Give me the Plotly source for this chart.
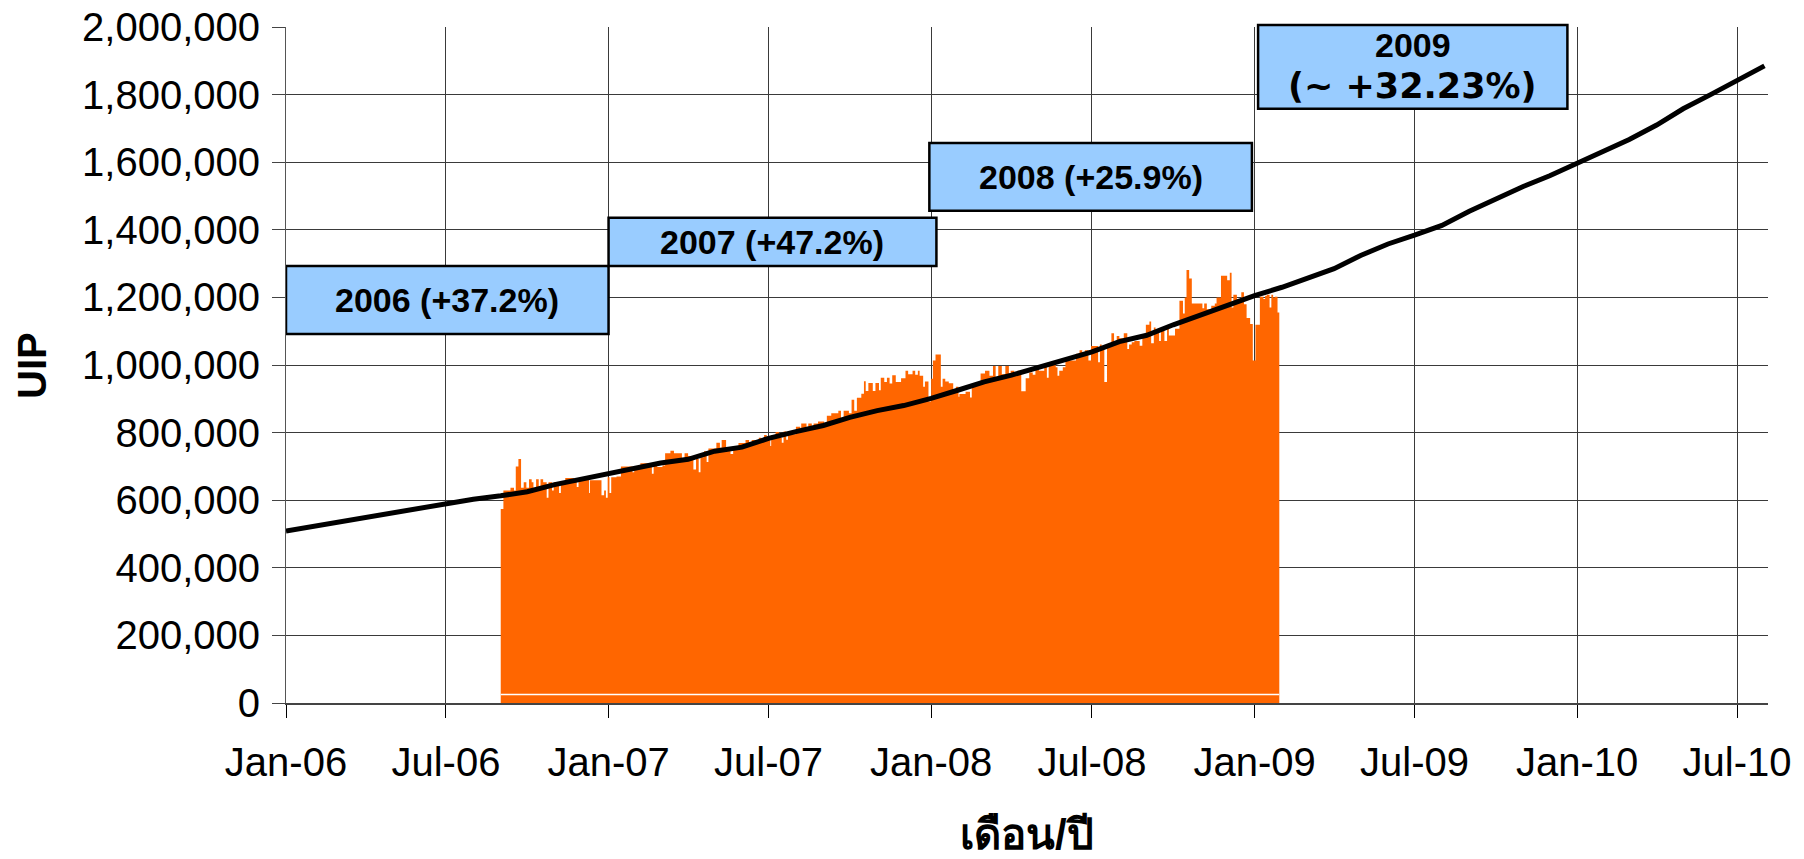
import pandas as pd
import plotly.graph_objects as go

# daily UIP: each value holds from its date to the next date
bar_dates = [
    '2006-09-01', '2006-09-04', '2006-09-12', '2006-09-16', '2006-09-18', '2006-09-21',
    '2006-09-24', '2006-09-27', '2006-09-30', '2006-10-03', '2006-10-06', '2006-10-08',
    '2006-10-11', '2006-10-14', '2006-10-16', '2006-10-19', '2006-10-23', '2006-10-25',
    '2006-10-29', '2006-10-31', '2006-11-06', '2006-11-08', '2006-11-13', '2006-11-23',
    '2006-11-26', '2006-11-28', '2006-12-10', '2006-12-11', '2006-12-24', '2006-12-27',
    '2006-12-29', '2006-12-31', '2007-01-02', '2007-01-04', '2007-01-10', '2007-01-15',
    '2007-01-28', '2007-01-30', '2007-02-06', '2007-02-19', '2007-02-21', '2007-02-25',
    '2007-03-03', '2007-03-06', '2007-03-12', '2007-03-16', '2007-03-25', '2007-03-28',
    '2007-04-01', '2007-04-07', '2007-04-10', '2007-04-13', '2007-04-15', '2007-04-19',
    '2007-04-22', '2007-04-24', '2007-05-03', '2007-05-07', '2007-05-09', '2007-05-14',
    '2007-05-19', '2007-05-22', '2007-05-28', '2007-06-05', '2007-06-09', '2007-06-12',
    '2007-06-17', '2007-06-20', '2007-06-23', '2007-06-26', '2007-06-29', '2007-07-03',
    '2007-07-04', '2007-07-09', '2007-07-13', '2007-07-16', '2007-07-18', '2007-07-21',
    '2007-07-23', '2007-08-01', '2007-08-06', '2007-08-07', '2007-08-13', '2007-08-15',
    '2007-08-19', '2007-08-21', '2007-08-26', '2007-09-02', '2007-09-05', '2007-09-10',
    '2007-09-18', '2007-09-21', '2007-09-24', '2007-09-30', '2007-10-03', '2007-10-06',
    '2007-10-09', '2007-10-14', '2007-10-17', '2007-10-19', '2007-10-22', '2007-10-27',
    '2007-10-30', '2007-11-03', '2007-11-05', '2007-11-09', '2007-11-12', '2007-11-15',
    '2007-11-18', '2007-11-22', '2007-11-28', '2007-12-03', '2007-12-06', '2007-12-11',
    '2007-12-14', '2007-12-17', '2007-12-19', '2007-12-23', '2007-12-25', '2007-12-29',
    '2008-01-01', '2008-01-03', '2008-01-06', '2008-01-12', '2008-01-14', '2008-01-17',
    '2008-01-21', '2008-01-26', '2008-01-29', '2008-02-01', '2008-02-02', '2008-02-09',
    '2008-02-14', '2008-02-16', '2008-02-26', '2008-03-02', '2008-03-07', '2008-03-11',
    '2008-03-14', '2008-03-17', '2008-03-21', '2008-03-25', '2008-03-29', '2008-03-31',
    '2008-04-04', '2008-04-08', '2008-04-12', '2008-04-17', '2008-04-21', '2008-04-25',
    '2008-04-28', '2008-05-02', '2008-05-08', '2008-05-11', '2008-05-13', '2008-05-21',
    '2008-05-23', '2008-05-25', '2008-05-29', '2008-06-01', '2008-06-13', '2008-06-17',
    '2008-06-20', '2008-06-23', '2008-06-27', '2008-06-30', '2008-07-08', '2008-07-10',
    '2008-07-12', '2008-07-15', '2008-07-18', '2008-07-23', '2008-07-26', '2008-07-29',
    '2008-08-01', '2008-08-06', '2008-08-10', '2008-08-12', '2008-08-15', '2008-08-18',
    '2008-08-24', '2008-08-27', '2008-08-31', '2008-09-04', '2008-09-06', '2008-09-09',
    '2008-09-11', '2008-09-15', '2008-09-17', '2008-09-21', '2008-09-24', '2008-09-26',
    '2008-10-03', '2008-10-08', '2008-10-12', '2008-10-14', '2008-10-16', '2008-10-19',
    '2008-10-22', '2008-11-03', '2008-11-05', '2008-11-08', '2008-11-13', '2008-11-17',
    '2008-11-19', '2008-11-24', '2008-12-01', '2008-12-04', '2008-12-06', '2008-12-08',
    '2008-12-12', '2008-12-17', '2008-12-20', '2008-12-23', '2008-12-27', '2008-12-30',
    '2009-01-02', '2009-01-07', '2009-01-11', '2009-01-13', '2009-01-15', '2009-01-18',
    '2009-01-20', '2009-01-22', '2009-01-24', '2009-01-27', '2009-01-29',
]
bar_values = [
    574000, 629000, 637000, 629000, 700000, 722000,
    637000, 653000, 637000, 662000, 653000, 637000,
    662000, 637000, 662000, 653000, 607000, 653000,
    629000, 653000, 621000, 653000, 666000, 659000,
    639000, 666000, 621000, 659000, 615000, 629000,
    607000, 668000, 621000, 668000, 670000, 700000,
    683000, 700000, 709000, 678000, 709000, 698000,
    703000, 739000, 746000, 739000, 722000, 739000,
    731000, 691000, 722000, 683000, 727000, 745000,
    713000, 753000, 770000, 755000, 778000, 755000,
    737000, 753000, 769000, 778000, 770000, 778000,
    770000, 785000, 778000, 793000, 780000, 760000,
    792000, 802000, 785000, 770000, 803000, 779000,
    795000, 817000, 807000, 827000, 807000, 827000,
    813000, 827000, 833000, 820000, 850000, 857000,
    865000, 840000, 865000, 857000, 897000, 865000,
    903000, 915000, 952000, 923000, 947000, 923000,
    947000, 925000, 962000, 950000, 962000, 945000,
    970000, 950000, 961000, 983000, 973000, 983000,
    971000, 983000, 968000, 936000, 951000, 892000,
    959000, 1013000, 1031000, 936000, 959000, 951000,
    946000, 929000, 936000, 906000, 914000, 921000,
    904000, 944000, 975000, 983000, 968000, 997000,
    959000, 997000, 973000, 997000, 971000, 983000,
    973000, 983000, 922000, 961000, 978000, 971000,
    993000, 983000, 1003000, 962000, 1000000, 993000,
    968000, 983000, 993000, 1013000, 1033000, 1044000,
    1033000, 1044000, 1013000, 1056000, 1008000, 1061000,
    1054000, 950000, 1055000, 1094000, 1070000, 1086000,
    1079000, 1094000, 1047000, 1061000, 1067000, 1071000,
    1057000, 1084000, 1119000, 1129000, 1064000, 1111000,
    1101000, 1071000, 1101000, 1071000, 1107000, 1087000,
    1107000, 1190000, 1152000, 1200000, 1281000, 1256000,
    1182000, 1168000, 1182000, 1165000, 1175000, 1182000,
    1200000, 1264000, 1251000, 1273000, 1170000, 1208000,
    1195000, 1215000, 1180000, 1139000, 1121000, 1013000,
    1119000, 1202000, 1195000, 1205000, 1208000, 1170000,
    1208000, 1200000, 1202000, 1155000, 1155000,
]

# trend line, read at the start of each month
trend_dates = [
    '2006-01-01', '2006-02-01', '2006-03-01', '2006-04-01', '2006-05-01', '2006-06-01',
    '2006-07-01', '2006-08-01', '2006-09-01', '2006-10-01', '2006-11-01', '2006-12-01',
    '2007-01-01', '2007-02-01', '2007-03-01', '2007-04-01', '2007-05-01', '2007-06-01',
    '2007-07-01', '2007-08-01', '2007-09-01', '2007-10-01', '2007-11-01', '2007-12-01',
    '2008-01-01', '2008-02-01', '2008-03-01', '2008-04-01', '2008-05-01', '2008-06-01',
    '2008-07-01', '2008-08-01', '2008-09-01', '2008-10-01', '2008-11-01', '2008-12-01',
    '2009-01-01', '2009-02-01', '2009-03-01', '2009-04-01', '2009-05-01', '2009-06-01',
    '2009-07-01', '2009-08-01', '2009-09-01', '2009-10-01', '2009-11-01', '2009-12-01',
    '2010-01-01', '2010-02-01', '2010-03-01', '2010-04-01', '2010-05-01', '2010-06-01',
    '2010-07-01', '2010-08-01',
]
trend_values = [
    509000, 523000, 535000, 547000, 561000, 575000,
    589000, 603000, 613000, 625000, 646000, 662000,
    676000, 693000, 710000, 721000, 745000, 757000,
    783000, 803000, 821000, 845000, 865000, 880000,
    901000, 926000, 950000, 970000, 994000, 1015000,
    1039000, 1069000, 1088000, 1119000, 1148000, 1173000,
    1205000, 1230000, 1257000, 1285000, 1324000, 1358000,
    1384000, 1413000, 1455000, 1492000, 1528000, 1560000,
    1597000, 1635000, 1667000, 1710000, 1758000, 1800000,
    1842000, 1885000,
]

# yearly growth labels
year_labels = ['2006 (+37.2%)', '2007 (+47.2%)', '2008 (+25.9%)']
year_label_2009 = ['2009', '(~ +32.23%)']

# label boxes: (start, end, bottom, top) in axis units
label_boxes = [
    ('2006-01-01', '2007-01-01', 1092000, 1293000),
    ('2007-01-01', '2008-01-07', 1293000, 1436000),
    ('2007-12-30', '2008-12-29', 1456000, 1657000),
    ('2009-01-05', '2009-12-21', 1758000, 2006000),
]

Y_MAX = 2000000
ORANGE = '#FF6600'
BOX_BLUE = '#99CCFF'
GRID = '#3a3a3a'
FONT = 'Liberation Sans, Arial, sans-serif'

fig = go.Figure()

fig.add_trace(go.Scatter(x=bar_dates, y=bar_values, mode='lines',
                         line=dict(width=0, shape='hv'),
                         fill='tozeroy', fillcolor=ORANGE,
                         showlegend=False, hoverinfo='skip'))

fig.add_trace(go.Scatter(x=trend_dates, y=trend_values, mode='lines',
                         line=dict(color='black', width=5),
                         showlegend=False))

# the original has no gridline along the top edge
fig.add_shape(type='line', xref='paper', yref='paper', x0=0, x1=1, y0=1, y1=1,
              line=dict(color='white', width=3), layer='between')

# thin white seam near the base of the bars
fig.add_shape(type='line', xref='x', yref='y',
              x0=bar_dates[0], x1=bar_dates[-1], y0=25000, y1=25000,
              line=dict(color='white', width=1.5), layer='above')

# boxes use paper units vertically so the 2009 one can poke above the plot top
for x0, x1, y0, y1 in label_boxes:
    fig.add_shape(type='rect', xref='x', yref='paper', x0=x0, x1=x1,
                  y0=y0 / Y_MAX, y1=y1 / Y_MAX,
                  fillcolor=BOX_BLUE, line=dict(color='black', width=2.5), layer='above')

for (x0, x1, y0, y1), text in zip(label_boxes[:3], year_labels):
    mid = pd.Timestamp(x0) + (pd.Timestamp(x1) - pd.Timestamp(x0)) / 2
    fig.add_annotation(x=mid, y=(y0 + y1) / 2, xref='x', yref='y', text='<b>%s</b>' % text,
                       showarrow=False, font=dict(family=FONT, size=34, color='black'))

x0, x1, y0, y1 = label_boxes[3]
mid = pd.Timestamp(x0) + (pd.Timestamp(x1) - pd.Timestamp(x0)) / 2
fig.add_annotation(x=mid, y=(y0 + y1) / 2, xref='x', yref='y', yshift=22,
                   text='<b>%s</b>' % year_label_2009[0], showarrow=False,
                   font=dict(family=FONT, size=34, color='black'))
fig.add_annotation(x=mid, y=(y0 + y1) / 2, xref='x', yref='y', yshift=-19,
                   text='<b>%s</b>' % year_label_2009[1], showarrow=False,
                   font=dict(family='DejaVu Sans, Verdana, sans-serif', size=35, color='black'))

# axis titles
fig.add_annotation(x=-0.1714, y=0.5, xref='paper', yref='paper', text='<b>UIP</b>',
                   textangle=-90, showarrow=False, xanchor='center', yanchor='middle',
                   font=dict(family=FONT, size=40, color='black'))
fig.add_annotation(x=0.5, y=-0.194, xref='paper', yref='paper', text='<b>เดือน/ปี</b>',
                   showarrow=False, xanchor='center', yanchor='middle',
                   font=dict(family=FONT, size=42, color='black'))

fig.update_layout(
    width=1804, height=859,
    margin=dict(l=286, r=36, t=27, b=156),
    paper_bgcolor='white', plot_bgcolor='white',
    font=dict(family=FONT, color='black'),
    showlegend=False,
    xaxis=dict(type='date', range=['2006-01-01', '2010-08-05'],
               tick0='2006-01-01', dtick='M6', tickformat='%b-%y',
               ticks='outside', ticklen=13, tickcolor='black', tickwidth=1,
               showgrid=True, gridcolor=GRID, gridwidth=1, zeroline=False,
               showline=True, linecolor='#444444', linewidth=2,
               tickfont=dict(size=40), ticklabelstandoff=10, automargin=False),
    yaxis=dict(range=[0, Y_MAX], dtick=200000, tickformat=',d',
               ticks='outside', ticklen=13, tickcolor='#444444', tickwidth=1,
               showgrid=True, gridcolor=GRID, gridwidth=1, zeroline=False,
               showline=True, linecolor='#555555', linewidth=1,
               tickfont=dict(size=40), ticklabelstandoff=4, automargin=False),
)

fig.write_html("out.html", config={'displayModeBar': False},
               post_script="document.body.style.margin='0';")
